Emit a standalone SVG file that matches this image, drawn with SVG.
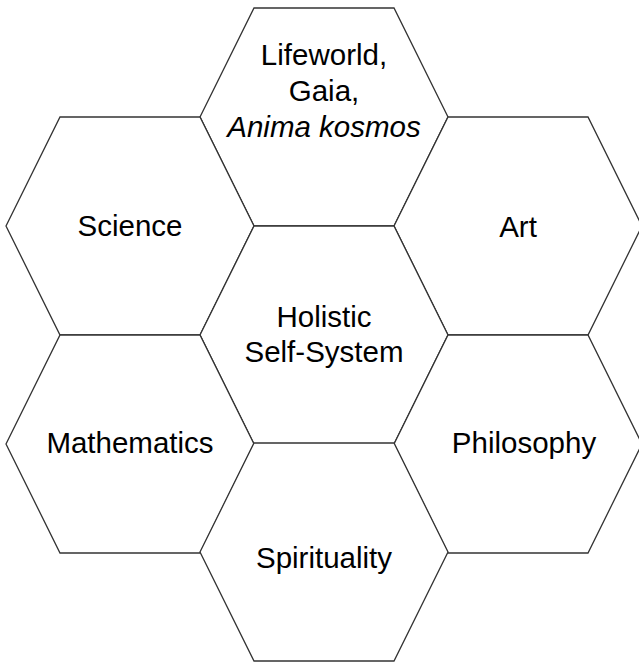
<svg xmlns="http://www.w3.org/2000/svg" width="639" height="665" viewBox="0 0 639 665">
<style>
.hex{fill:#ffffff;stroke:#333333;stroke-width:1.3;stroke-linejoin:miter}
.lbl{font-family:"Liberation Sans",Arial,sans-serif;font-size:29.5px;fill:#000000;text-anchor:middle}
</style>
<defs>
<polygon id="hexshape" points="-124,0 -70,-109 70,-109 124,0 70,109 -70,109"/>
</defs>
<rect width="639" height="665" fill="#ffffff"/>
<g id="connectors"></g>
<g id="top">
<use href="#hexshape" class="hex" x="324" y="117"/>
<text class="lbl" x="324" y="65">Lifeworld,</text>
<text class="lbl" x="324" y="101">Gaia,</text>
<text class="lbl" x="324" y="137" font-style="italic">Anima kosmos</text>
</g>
<g id="science">
<use href="#hexshape" class="hex" x="130" y="226"/>
<text class="lbl" x="130" y="236">Science</text>
</g>
<g id="art">
<use href="#hexshape" class="hex" x="518" y="226"/>
<text class="lbl" x="518" y="237">Art</text>
</g>
<g id="center">
<use href="#hexshape" class="hex" x="324" y="335"/>
<text class="lbl" x="324" y="327">Holistic</text>
<text class="lbl" x="324" y="362">Self-System</text>
</g>
<g id="mathematics">
<use href="#hexshape" class="hex" x="130" y="444"/>
<text class="lbl" x="130" y="453">Mathematics</text>
</g>
<g id="philosophy">
<use href="#hexshape" class="hex" x="518" y="444"/>
<text class="lbl" x="524" y="453">Philosophy</text>
</g>
<g id="spirituality">
<use href="#hexshape" class="hex" x="324" y="552"/>
<text class="lbl" x="324" y="568">Spirituality</text>
</g>
</svg>
